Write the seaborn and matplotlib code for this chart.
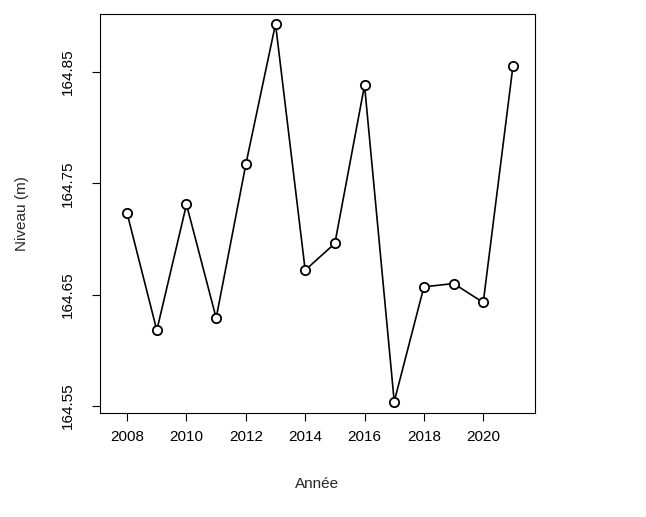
import matplotlib
matplotlib.use("Agg")
import matplotlib.pyplot as plt
import seaborn as sns
import pandas as pd

years = list(range(2008, 2022))
niveau = [164.723, 164.618, 164.731, 164.629, 164.767, 164.893, 164.672,
          164.696, 164.838, 164.554, 164.657, 164.660, 164.643, 164.855]
xticks = [2008, 2010, 2012, 2014, 2016, 2018, 2020]
yticks = [164.55, 164.65, 164.75, 164.85]

df = pd.DataFrame({"Année": years, "Niveau": niveau})

sns.set_style("ticks")
plt.rcParams['font.family'] = ['Liberation Sans', 'DejaVu Sans']

fig = plt.figure(figsize=(6.46, 5.17), dpi=100)
ax = fig.add_axes([0.155, 0.201, 0.673, 0.772])
sns.lineplot(data=df, x="Année", y="Niveau", color="black", lw=1.2, ax=ax)
sns.scatterplot(data=df, x="Année", y="Niveau", color="white", edgecolor="black",
                linewidth=1.3, s=45, zorder=3, ax=ax)

ax.set_xlim(2007.09, 2021.74)
ax.set_ylim(164.5437, 164.902)
ax.set_xticks(xticks)
ax.set_yticks(yticks)
ax.set_yticklabels([f"{v:.2f}" for v in yticks], rotation=90, va="center")
ax.tick_params(labelsize=11, length=6, color="black", labelcolor="black")
ax.tick_params(axis="y", pad=12)
ax.tick_params(axis="x", pad=6)
for s in ax.spines.values():
    s.set_visible(True)
    s.set_color("black")
ax.set_xlabel("Année", fontsize=11, labelpad=24)
ax.set_ylabel("Niveau (m)", fontsize=11, labelpad=23)

fig.savefig("out.png", dpi=100)
